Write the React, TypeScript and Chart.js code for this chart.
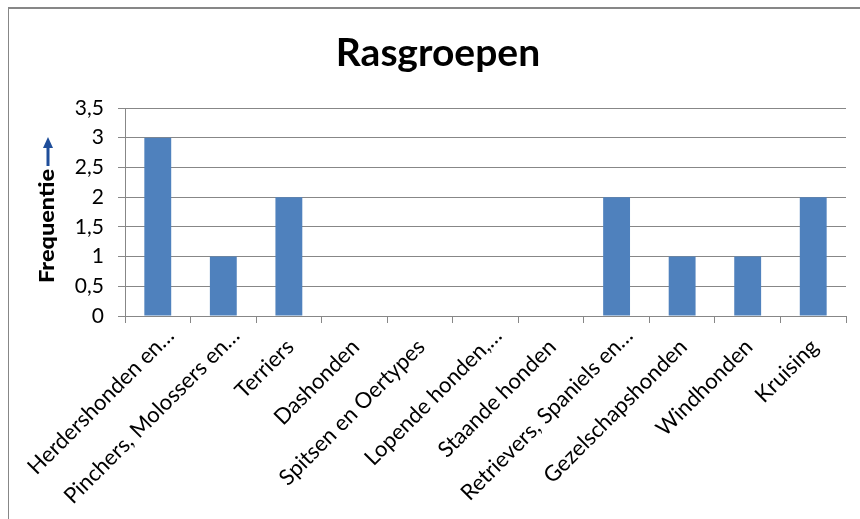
import React, { useEffect, useRef } from "react";
import { Chart, registerables } from "chart.js";

Chart.register(...registerables);

const categories = [
  "Herdershonden en…",
  "Pinchers, Molossers en…",
  "Terriers",
  "Dashonden",
  "Spitsen en Oertypes",
  "Lopende honden,…",
  "Staande honden",
  "Retrievers, Spaniels en…",
  "Gezelschapshonden",
  "Windhonden",
  "Kruising",
];
const frequencies = [3, 1, 2, 0, 0, 0, 0, 2, 1, 1, 2];
const chartTitle = "Rasgroepen";
const yTitle = "Frequentie";

const FONT = "Lato, 'Open Sans', sans-serif";
const GRAY = "#878787";
const X_FONT_SIZE = 22;

const decorPlugin = {
  id: "decor",
  beforeDraw(chart: any) {
    const ctx = chart.ctx;
    ctx.save();
    ctx.fillStyle = "#ffffff";
    ctx.fillRect(0, 0, chart.width, chart.height);
    ctx.fillStyle = GRAY;
    ctx.fillRect(8, 7, chart.width - 8, 2);
    ctx.fillRect(8, 7, 1, chart.height - 7);
    ctx.restore();
  },
  afterDraw(chart: any) {
    const ctx = chart.ctx;
    // x labels
    const xs = chart.scales.x;
    ctx.save();
    ctx.fillStyle = "#000000";
    ctx.font = `${X_FONT_SIZE}px ${FONT}`;
    ctx.textAlign = "right";
    ctx.textBaseline = "middle";
    const labels = chart.data.labels as string[];
    labels.forEach((lab, i) => {
      const px = xs.getPixelForValue(i) - 8;
      const py = xs.top + 7 + 11;
      const shift = lab.endsWith("…") ? 16 : 0;
      ctx.save();
      ctx.translate(px, py);
      ctx.rotate(-Math.PI / 4);
      ctx.fillText(lab, shift, (X_FONT_SIZE * 1.2) / 2);
      ctx.restore();
    });
    ctx.restore();

    ctx.save();
    // title
    ctx.fillStyle = "#000000";
    ctx.font = `bold 39px ${FONT}`;
    ctx.textAlign = "center";
    ctx.textBaseline = "alphabetic";
    ctx.fillText(chartTitle, 438, 66);
    // y title
    ctx.translate(54, 283);
    ctx.rotate(-Math.PI / 2);
    ctx.font = `900 20px ${FONT}`;
    ctx.textAlign = "left";
    const w = ctx.measureText(yTitle).width;
    const target = 114;
    ctx.scale(target / w, 1);
    ctx.fillText(yTitle, 0, 0);
    ctx.restore();
    // arrow
    ctx.save();
    const ax = 48;
    const yStart = 283 - target - 3;
    const yTip = yStart - 29;
    ctx.fillStyle = "#1f4e9a";
    ctx.fillRect(ax - 1.5, yTip + 9, 3, yStart - yTip - 9);
    ctx.beginPath();
    ctx.moveTo(ax, yTip);
    ctx.lineTo(ax - 5, yTip + 11);
    ctx.lineTo(ax + 5, yTip + 11);
    ctx.closePath();
    ctx.fill();
    ctx.restore();
  },
};

export default function App() {
  const ref = useRef<HTMLCanvasElement | null>(null);
  useEffect(() => {
    if (!ref.current) return;
    const chart = new Chart(ref.current, {
      type: "bar",
      data: {
        labels: categories,
        datasets: [
          {
            label: "Frequentie",
            data: frequencies,
            backgroundColor: "#4f81bd",
            borderWidth: 0,
            categoryPercentage: 1,
            barPercentage: 0.41,
          },
        ],
      },
      options: {
        responsive: false,
        animation: false,
        devicePixelRatio: 1,
        layout: { padding: { top: 108, right: 14, left: 0, bottom: 0 } },
        plugins: {
          legend: { display: false },
          title: { display: false },
          tooltip: { enabled: false },
        },
        scales: {
          x: {
            afterFit(scale: any) {
              scale.height = 203;
            },
            grid: {
              display: true,
              drawOnChartArea: false,
              drawTicks: true,
              tickLength: 7,
              color: GRAY,
              lineWidth: 1,
              offset: true,
            },
            border: { display: false },
            ticks: {
              display: false,
              autoSkip: false,
            },
          },
          y: {
            min: 0,
            max: 3.5,
            afterFit(scale: any) {
              scale.width = 125;
            },
            grid: {
              color: GRAY,
              lineWidth: 1,
              drawTicks: true,
              tickLength: 7,
            },
            border: { display: true, color: GRAY, width: 1 },
            ticks: {
              stepSize: 0.5,
              padding: 14,
              color: "#000000",
              font: { family: FONT, size: 21 },
              callback: (v: any) => String(v).replace(".", ","),
            },
          },
        },
      },
      plugins: [decorPlugin],
    });
    return () => chart.destroy();
  }, []);
  return (
    <div style={{ position: "absolute", left: 0, top: 0, width: 860, height: 519 }}>
      <canvas ref={ref} width={860} height={519} style={{ display: "block" }} />
    </div>
  );
}
